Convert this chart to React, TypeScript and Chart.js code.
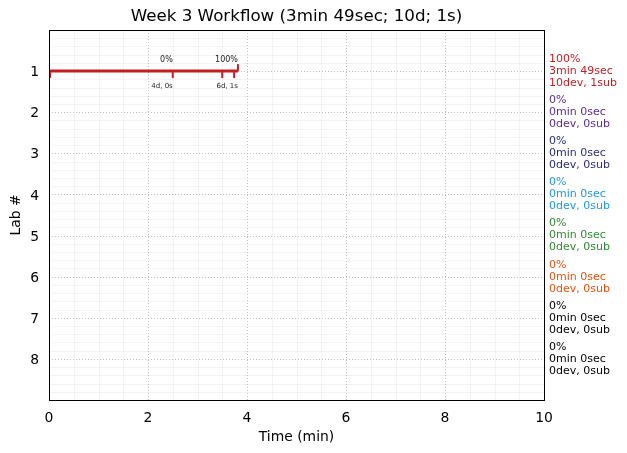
import React, { useEffect, useRef } from "react";
import { Chart, registerables } from "chart.js";

Chart.register(...registerables);

const titleText = "Week 3 Workflow (3min 49sec; 10d; 1s)";
const xTitle = "Time (min)";
const yTitle = "Lab #";

const labs = [1, 2, 3, 4, 5, 6, 7, 8];
const labPercent = ["100%", "0%", "0%", "0%", "0%", "0%", "0%", "0%"];
const labTime = ["3min 49sec", "0min 0sec", "0min 0sec", "0min 0sec", "0min 0sec", "0min 0sec", "0min 0sec", "0min 0sec"];
const labDevSub = ["10dev, 1sub", "0dev, 0sub", "0dev, 0sub", "0dev, 0sub", "0dev, 0sub", "0dev, 0sub", "0dev, 0sub", "0dev, 0sub"];
const labColors = ["#c41e22", "#5a2ca0", "#2b2b80", "#2196f3", "#2e8b30", "#e8500a", "#000000", "#000000"];

// Lab 1 timeline (minutes)
const lab1Start = 0;
const lab1End = 3.817;
const downTicks = [0, 2.5, 3.5, 3.74];
const upTicks = [3.817];
const milestoneX = [2.5, 3.817];
const milestoneTop = ["0%", "100%"];
const milestoneBottom = ["4d, 0s", "6d, 1s"];

const xTicks = [0, 2, 4, 6, 8, 10];

const FONT = "'DejaVu Sans', sans-serif";

const overlay = {
  id: "overlay",
  beforeDatasetsDraw(chart: any) {
    const { ctx, chartArea: a, scales } = chart;
    const x = scales.x, y = scales.y;
    ctx.save();
    // minor grid
    ctx.strokeStyle = "#f0f0f0";
    ctx.lineWidth = 0.8;
    ctx.setLineDash([]);
    for (let v = 0.5; v < 10; v += 0.5) {
      if (Math.abs(v % 2) < 1e-6) continue;
      const px = Math.round(x.getPixelForValue(v)) + 0.5;
      ctx.beginPath(); ctx.moveTo(px, a.top); ctx.lineTo(px, a.bottom); ctx.stroke();
    }
    for (let i = 1; i < 45; i++) {
      if (i % 5 === 0) continue;
      const v = i * 0.2;
      const py = Math.round(y.getPixelForValue(v)) + 0.5;
      ctx.beginPath(); ctx.moveTo(a.left, py); ctx.lineTo(a.right, py); ctx.stroke();
    }
    // major grid dotted
    ctx.strokeStyle = "#b0b0b0";
    ctx.lineWidth = 0.8;
    ctx.setLineDash([1, 2]);
    for (const v of xTicks) {
      if (v === 0 || v === 10) continue;
      const px = Math.round(x.getPixelForValue(v)) + 0.5;
      ctx.beginPath(); ctx.moveTo(px, a.top); ctx.lineTo(px, a.bottom); ctx.stroke();
    }
    for (const v of labs) {
      const py = Math.round(y.getPixelForValue(v)) + 0.5;
      ctx.beginPath(); ctx.moveTo(a.left, py); ctx.lineTo(a.right, py); ctx.stroke();
    }
    ctx.restore();
  },
  afterDatasetsDraw(chart: any) {
    const { ctx, chartArea: a, scales } = chart;
    const x = scales.x, y = scales.y;
    ctx.save();
    const y1 = y.getPixelForValue(1);
    // tick marks on timeline
    ctx.strokeStyle = labColors[0];
    ctx.lineWidth = 2;
    for (const v of downTicks) {
      const px = x.getPixelForValue(v) + (v === 0 ? 1 : 0);
      ctx.beginPath(); ctx.moveTo(px, y1); ctx.lineTo(px, y.getPixelForValue(1.17)); ctx.stroke();
    }
    for (const v of upTicks) {
      const px = x.getPixelForValue(v);
      ctx.beginPath(); ctx.moveTo(px, y1); ctx.lineTo(px, y.getPixelForValue(0.83)); ctx.stroke();
    }
    // milestone labels
    ctx.fillStyle = "#222";
    ctx.textAlign = "right";
    ctx.textBaseline = "middle";
    milestoneX.forEach((v, i) => {
      const px = x.getPixelForValue(v);
      ctx.font = `8px ${FONT}`;
      ctx.fillText(milestoneTop[i], px, y.getPixelForValue(0.73));
      ctx.font = `7px ${FONT}`;
      ctx.fillText(milestoneBottom[i], px, y.getPixelForValue(1.36));
    });
    // frame
    ctx.strokeStyle = "#000";
    ctx.lineWidth = 1;
    ctx.setLineDash([]);
    ctx.strokeRect(Math.round(a.left) + 0.5, Math.round(a.top) + 0.5, Math.round(a.right - a.left), Math.round(a.bottom - a.top));
    // y tick labels
    ctx.fillStyle = "#000";
    ctx.textAlign = "right";
    ctx.font = `13.9px ${FONT}`;
    labs.forEach((lab) => {
      ctx.fillText(String(lab), a.left - 10, y.getPixelForValue(lab) + 1.5);
    });
    // right annotations
    ctx.textAlign = "left";
    ctx.font = `11px ${FONT}`;
    labs.forEach((lab, i) => {
      const py = y.getPixelForValue(lab);
      ctx.fillStyle = labColors[i];
      ctx.fillText(labPercent[i], a.right + 5, py - 12);
      ctx.fillText(labTime[i], a.right + 5, py);
      ctx.fillText(labDevSub[i], a.right + 5, py + 12);
    });
    // titles
    ctx.fillStyle = "#000";
    ctx.textAlign = "center";
    ctx.font = `16.7px ${FONT}`;
    ctx.fillText(titleText, (a.left + a.right) / 2, 17);
    ctx.font = `13.9px ${FONT}`;
    ctx.fillText(xTitle, (a.left + a.right) / 2, 437);
    ctx.translate(16, (a.top + a.bottom) / 2);
    ctx.rotate(-Math.PI / 2);
    ctx.fillText(yTitle, 0, 0);
    ctx.restore();
  },
};

export default function App() {
  const ref = useRef<HTMLCanvasElement>(null);
  useEffect(() => {
    document.body.style.margin = "0";
    const chart = new Chart(ref.current as HTMLCanvasElement, {
      type: "scatter",
      data: {
        datasets: [
          {
            data: [
              { x: lab1Start, y: 1 },
              { x: lab1End, y: 1 },
            ],
            showLine: true,
            borderColor: labColors[0],
            borderWidth: 3,
            pointRadius: 0,
            borderCapStyle: "butt",
          },
        ],
      },
      options: {
        animation: false,
        responsive: false,
        layout: { padding: { top: 30, right: 83, left: 0, bottom: 0 } },
        plugins: { legend: { display: false }, tooltip: { enabled: false }, title: { display: false } },
        scales: {
          x: {
            type: "linear",
            min: 0,
            max: 10,
            afterBuildTicks: (s: any) => { s.ticks = xTicks.map((v) => ({ value: v })); },
            afterFit: (s: any) => { s.height = 53; },
            grid: { display: false, drawTicks: false },
            border: { display: false },
            ticks: { color: "#000", padding: 10, font: { family: FONT, size: 13.9 }, maxRotation: 0 },
          },
          y: {
            type: "linear",
            min: 0,
            max: 9,
            reverse: true,
            afterBuildTicks: (s: any) => { s.ticks = labs.map((v) => ({ value: v })); },
            afterFit: (s: any) => { s.width = 49; },
            grid: { display: false, drawTicks: false },
            border: { display: false },
            ticks: { display: false },
          },
        },
      },
      plugins: [overlay],
    } as any);
    return () => chart.destroy();
  }, []);
  return (
    <div style={{ width: 627, height: 453 }}>
      <canvas ref={ref} width={627} height={453} />
    </div>
  );
}
